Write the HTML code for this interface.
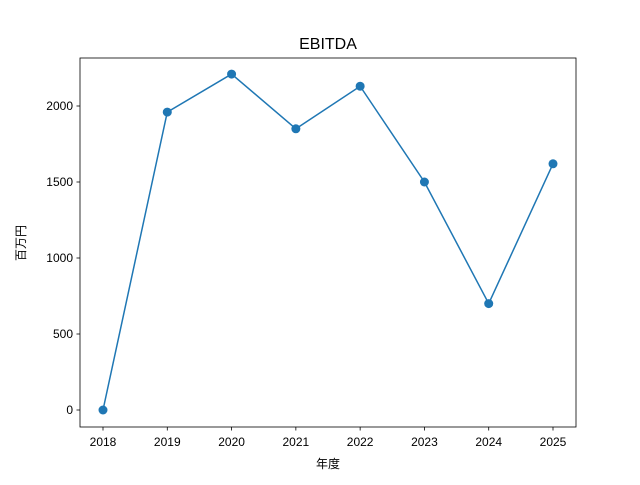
<!DOCTYPE html>
<html><head><meta charset="utf-8"><style>
body{margin:0;background:#fff;}
svg text{font-family:"Liberation Sans","Noto Sans CJK JP",sans-serif;fill:#000;}
</style></head><body>
<svg width="640" height="480" viewBox="0 0 640 480">
<rect width="640" height="480" fill="#fff"/>
<text x="328" y="49" font-size="16" text-anchor="middle">EBITDA</text>
<g id="axes"></g>
<rect x="80" y="58" width="496" height="369" fill="none" stroke="#000" stroke-width="0.8"/>
<text x="328" y="468" font-size="12" text-anchor="middle">年度</text>
<text transform="translate(25,243) rotate(-90)" font-size="12" text-anchor="middle">百万円</text>
</svg>
<script>
const years = [2018,2019,2020,2021,2022,2023,2024,2025];
const ebitda = [0,1960,2210,1850,2130,1500,700,1620];
const yTicks = [0,500,1000,1500,2000];
const NS="http://www.w3.org/2000/svg";
const g=document.getElementById('axes');
const xs=y=>103+(y-2018)*(553-103)/7;
const ys=v=>410-v*0.152;
function mk(t,a){const e=document.createElementNS(NS,t);for(const k in a)e.setAttribute(k,a[k]);g.appendChild(e);return e;}
years.forEach(y=>{
  const l=mk('line',{x1:xs(y),x2:xs(y),y1:427,y2:430.5,stroke:'#000','stroke-width':0.8});
  
  
  const t=mk('text',{x:xs(y),y:446,'font-size':12,'text-anchor':'middle'});t.textContent=y;
  
  
});
yTicks.forEach(v=>{
  const l=mk('line',{x1:76.5,x2:80,y1:ys(v),y2:ys(v),stroke:'#000','stroke-width':0.8});
  
  
  const t=mk('text',{x:73,y:ys(v)+4,'font-size':12,'text-anchor':'end'});t.textContent=v;
  
  
});
const p=mk('polyline',{points:years.map((y,i)=>xs(y)+','+ys(ebitda[i])).join(' '),fill:'none',stroke:'#1f77b4','stroke-width':1.5});


years.forEach((y,i)=>{
  const c=mk('circle',{cx:xs(y),cy:ys(ebitda[i]),r:4.5,fill:'#1f77b4'});
  
  
});
</script>
</body></html>
